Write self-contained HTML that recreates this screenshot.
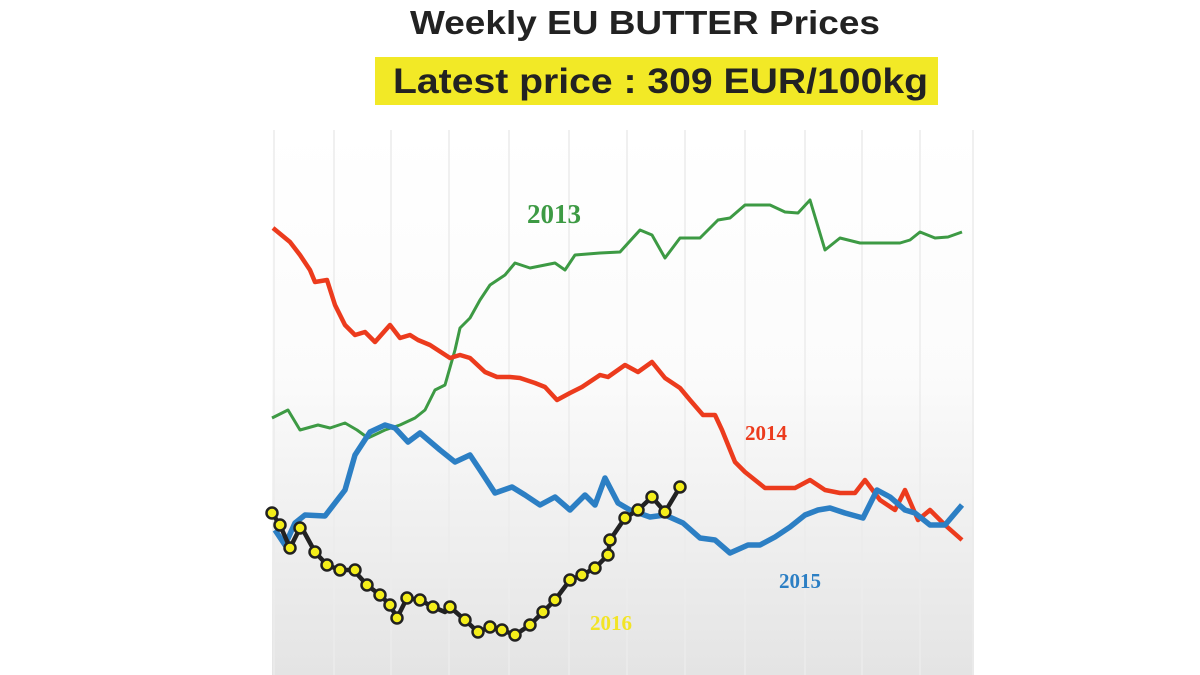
<!DOCTYPE html>
<html><head><meta charset="utf-8"><style>
html,body{margin:0;padding:0;background:#fff;width:1200px;height:675px;overflow:hidden}
</style></head><body>
<svg width="1200" height="675" xmlns="http://www.w3.org/2000/svg">
<defs>
<linearGradient id="bg" x1="0" y1="0" x2="0" y2="1">
<stop offset="0" stop-color="#ffffff"/><stop offset="0.45" stop-color="#fbfbfb"/><stop offset="1" stop-color="#e4e4e4"/>
</linearGradient>
</defs>
<rect x="272" y="130" width="702" height="545" fill="url(#bg)"/>
<g stroke="#ececec" stroke-width="1.5">
<line x1="274" y1="130" x2="274" y2="675"/><line x1="334" y1="130" x2="334" y2="675"/><line x1="391" y1="130" x2="391" y2="675"/><line x1="449" y1="130" x2="449" y2="675"/><line x1="509" y1="130" x2="509" y2="675"/><line x1="569" y1="130" x2="569" y2="675"/><line x1="627" y1="130" x2="627" y2="675"/><line x1="685" y1="130" x2="685" y2="675"/><line x1="745" y1="130" x2="745" y2="675"/><line x1="805" y1="130" x2="805" y2="675"/><line x1="862" y1="130" x2="862" y2="675"/><line x1="920" y1="130" x2="920" y2="675"/><line x1="973" y1="130" x2="973" y2="675"/>
</g>
<text x="410" y="34" textLength="470" lengthAdjust="spacingAndGlyphs" font-family="Liberation Sans, sans-serif" font-weight="bold" font-size="33" fill="#222">Weekly EU BUTTER Prices</text>
<rect x="375" y="57" width="563" height="48" fill="#f2e926"/>
<text x="393" y="93" textLength="535" lengthAdjust="spacingAndGlyphs" font-family="Liberation Sans, sans-serif" font-weight="bold" font-size="35" fill="#222">Latest price : 309 EUR/100kg</text>
<polyline fill="none" stroke="#3d9a44" stroke-width="3" stroke-linejoin="round" points="272,418 288,410 300,430 318,425 330,428 345,423 357,430 368,438 385,430 400,425 415,418 425,410 435,390 445,385 455,350 460,328 470,318 480,300 490,285 505,275 515,263 530,268 545,265 555,263 565,270 575,255 600,253 620,252 640,230 652,235 665,258 680,238 700,238 718,220 730,218 745,205 770,205 785,212 798,213 810,200 825,250 840,238 860,243 880,243 900,243 910,240 920,232 935,238 948,237 962,232"/>
<polyline fill="none" stroke="#ec3b1d" stroke-width="4.5" stroke-linejoin="round" points="273,228 290,242 300,255 310,270 315,282 327,280 335,305 345,325 355,335 365,332 375,342 390,325 400,338 410,335 418,340 430,345 450,358 460,355 470,358 485,372 497,377 510,377 520,378 535,383 545,387 557,400 570,393 582,387 600,375 608,377 625,365 638,372 652,362 665,378 680,388 690,400 703,415 715,415 722,430 735,462 745,472 755,480 765,488 780,488 795,488 810,480 825,490 840,493 855,493 865,480 880,500 895,510 905,490 918,520 930,510 945,525 962,540"/>
<polyline fill="none" stroke="#2c7fc4" stroke-width="5.5" stroke-linejoin="round" points="275,530 285,545 295,523 305,515 325,516 345,490 355,455 370,432 385,425 395,428 408,442 420,433 440,450 455,462 470,455 480,470 495,493 512,487 525,495 540,505 555,497 570,510 585,495 595,505 605,478 618,503 630,510 650,517 665,515 683,523 700,538 715,540 730,553 748,545 760,545 775,537 790,527 805,515 818,510 830,508 845,513 863,518 877,490 890,497 905,510 915,513 930,525 945,525 962,505"/>
<g>
<polyline fill="none" stroke="#222" stroke-width="4.5" stroke-linejoin="round" points="272,513 280,525 290,548 300,528 303,530 315,552 327,565 340,570 355,570 358,575 367,585 380,595 390,605 397,618 407,598 420,600 433,607 445,612 450,607 465,620 478,632 490,627 502,630 515,635 530,625 543,612 555,600 570,580 582,575 595,568 608,555 610,540 625,518 638,510 652,497 665,512 680,487"/>
<g fill="#f4ee1a" stroke="#222" stroke-width="2.5">
<circle cx="272" cy="513" r="5.5"/><circle cx="280" cy="525" r="5.5"/><circle cx="290" cy="548" r="5.5"/><circle cx="300" cy="528" r="5.5"/><circle cx="315" cy="552" r="5.5"/><circle cx="327" cy="565" r="5.5"/><circle cx="340" cy="570" r="5.5"/><circle cx="355" cy="570" r="5.5"/><circle cx="367" cy="585" r="5.5"/><circle cx="380" cy="595" r="5.5"/><circle cx="390" cy="605" r="5.5"/><circle cx="397" cy="618" r="5.5"/><circle cx="407" cy="598" r="5.5"/><circle cx="420" cy="600" r="5.5"/><circle cx="433" cy="607" r="5.5"/><circle cx="450" cy="607" r="5.5"/><circle cx="465" cy="620" r="5.5"/><circle cx="478" cy="632" r="5.5"/><circle cx="490" cy="627" r="5.5"/><circle cx="502" cy="630" r="5.5"/><circle cx="515" cy="635" r="5.5"/><circle cx="530" cy="625" r="5.5"/><circle cx="543" cy="612" r="5.5"/><circle cx="555" cy="600" r="5.5"/><circle cx="570" cy="580" r="5.5"/><circle cx="582" cy="575" r="5.5"/><circle cx="595" cy="568" r="5.5"/><circle cx="608" cy="555" r="5.5"/><circle cx="610" cy="540" r="5.5"/><circle cx="625" cy="518" r="5.5"/><circle cx="638" cy="510" r="5.5"/><circle cx="652" cy="497" r="5.5"/><circle cx="665" cy="512" r="5.5"/><circle cx="680" cy="487" r="5.5"/>
</g></g>
<g font-family="Liberation Serif, serif" font-weight="bold">
<text x="527" y="223" font-size="27" fill="#3d9a44">2013</text>
<text x="745" y="440" font-size="21" fill="#ec3b1d">2014</text>
<text x="779" y="588" font-size="21" fill="#2c7fc4">2015</text>
<text x="590" y="630" font-size="21" fill="#f2e426">2016</text>
</g>
</svg>
</body></html>
